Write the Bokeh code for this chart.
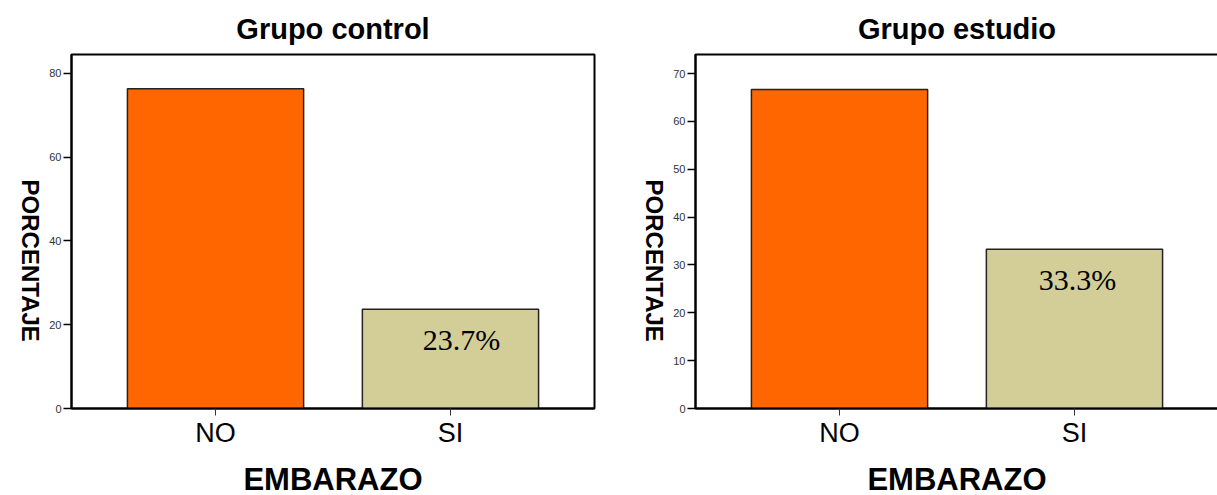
import math
from bokeh.plotting import figure
from bokeh.models import Range1d, FactorRange, FixedTicker, ColumnDataSource
from bokeh.layouts import row
from bokeh.embed import file_html
from bokeh.resources import INLINE
from bokeh.core.properties import value

categories = ["NO", "SI"]
control_values = [76.3, 23.7]
estudio_values = [66.7, 33.3]
control_ticks = [0, 20, 40, 60, 80]
estudio_ticks = [0, 10, 20, 30, 40, 50, 60, 70]
control_title = "Grupo control"
estudio_title = "Grupo estudio"
bar_colors = ["#FF6600", "#D3CE98"]
x_label = "EMBARAZO"
y_label = "PORCENTAJE"
label_category = "SI"

SANS = "Liberation Sans"
SERIF = "Liberation Serif"
# trailing no-break spaces lift the top-to-bottom axis label off the frame's bottom
Y_LABEL_PAD = "\u00a0" * 10


def make_panel(title, values, ticks, ymax, label_dx, border_left, border_right):
    src = ColumnDataSource(dict(cat=categories, val=values, color=bar_colors))
    p = figure(
        x_range=FactorRange(factors=categories, range_padding=0.113,
                            range_padding_units="absolute"),
        y_range=Range1d(0, ymax),
        frame_width=523, frame_height=354,
        min_border_left=border_left, min_border_right=border_right,
        min_border_top=53, min_border_bottom=0,
        output_backend="svg", toolbar_location=None, title=title,
    )
    p.vbar(x="cat", top="val", width=0.75, fill_color="color",
           line_color="#222222", line_width=1.5, source=src)

    idx = categories.index(label_category)
    lab_src = ColumnDataSource(dict(x=[label_category], y=[values[idx]],
                                    t=[f"{values[idx]}%"]))
    p.text(x="x", y="y", text="t", source=lab_src,
           text_font=value(SERIF), text_font_size="30px",
           text_align="center", text_baseline="middle",
           x_offset=label_dx, y_offset=30, text_color="black")

    p.grid.visible = False
    p.outline_line_color = "black"
    p.outline_line_width = 2
    p.outline_line_alpha = 1
    p.background_fill_color = "white"
    p.border_fill_color = "white"

    p.title.text_font = SANS
    p.title.text_font_size = "29px"
    p.title.text_font_style = "bold"
    p.title.align = "center"
    p.title.text_color = "black"
    p.title.standoff = 20

    xa = p.xaxis[0]
    xa.axis_label = x_label
    xa.axis_label_text_font = SANS
    xa.axis_label_text_font_size = "31px"
    xa.axis_label_text_font_style = "bold"
    xa.axis_label_text_color = "black"
    xa.axis_label_standoff = 11
    xa.major_label_text_font = SANS
    xa.major_label_text_font_size = "27px"
    xa.major_label_text_color = "black"
    xa.major_label_standoff = 2
    xa.major_tick_out = 7
    xa.major_tick_in = 0
    xa.major_tick_line_color = "#333333"
    xa.major_tick_line_width = 1
    xa.axis_line_color = "black"
    xa.axis_line_width = 2

    ya = p.yaxis[0]
    ya.ticker = FixedTicker(ticks=ticks)
    ya.major_label_text_font = SANS
    ya.major_label_text_font_size = "11px"
    ya.major_label_text_color = "#333333"
    ya.major_label_standoff = 2
    ya.major_tick_out = 8
    ya.major_tick_in = 0
    ya.major_tick_line_color = "black"
    ya.major_tick_line_width = 1.5
    ya.minor_tick_line_color = None
    ya.axis_line_color = "black"
    ya.axis_line_width = 2
    ya.axis_label = y_label + Y_LABEL_PAD
    ya.axis_label_text_font = SANS
    ya.axis_label_text_font_size = "24px"
    ya.axis_label_text_font_style = "bold"
    ya.axis_label_text_color = "black"
    ya.axis_label_align = "start"
    ya.axis_label_standoff = 16
    if hasattr(ya, "axis_label_orientation"):
        ya.axis_label_orientation = -math.pi / 2
    return p


p1 = make_panel(control_title, control_values, control_ticks, 84.5, 11, 70, 30)
p2 = make_panel(estudio_title, estudio_values, estudio_ticks, 74.0, 3, 70, 1)

layout = row(p1, p2)
open("out.html", "w").write(file_html(layout, INLINE))
